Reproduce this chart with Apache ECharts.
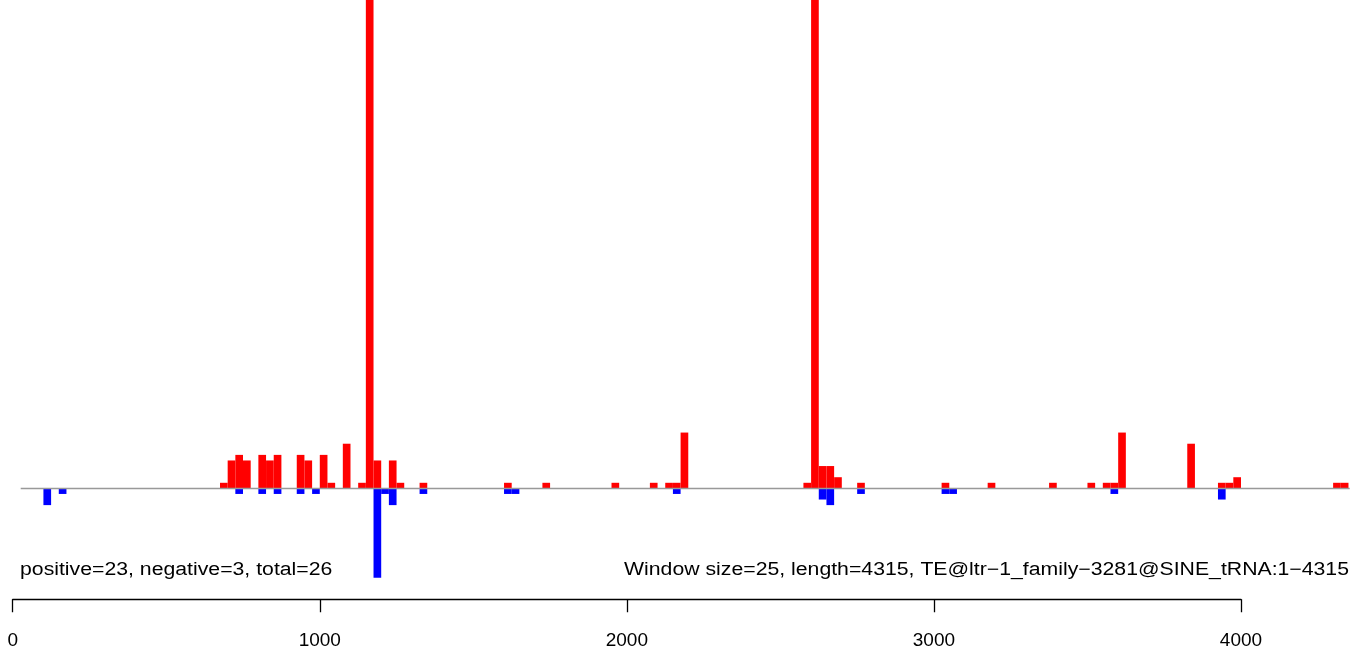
<!DOCTYPE html>
<html><head><meta charset="utf-8">
<script src="https://cdn.jsdelivr.net/npm/echarts@6/dist/echarts.min.js"></script>
<style>html,body{margin:0;padding:0;background:#fff;overflow:hidden}#c{width:1366px;height:648px}</style>
</head><body><div id="c"></div>
<script>
// ---- data (window starts in bp, counts) ----
const WINDOW = 25;
const posStart = [675,700,725,750,800,825,850,925,950,1000,1025,1075,1125,1150,1175,1225,1250,1325,
  1600,1725,1950,2075,2125,2150,2175,2575,2600,2625,2650,2675,2750,
  3025,3175,3375,3500,3550,3575,3600,3825,3925,3950,3975,4300,4325];
// the two tallest windows run off the top of the plot; their values are estimated
const posValue = [1,5,6,5,6,5,6,6,5,6,1,8,1,150,5,5,1,1,
  1,1,1,1,1,1,10,1,150,4,4,2,1,
  1,1,1,1,1,1,10,8,1,1,2,1,1];
const negStart = [100,150,725,800,850,925,975,1175,1200,1225,1325,1600,1625,2150,2625,2650,2750,3025,3050,3575,3925];
const negValue = [-3,-1,-1,-1,-1,-1,-1,-16,-1,-3,-1,-1,-1,-1,-2,-3,-1,-1,-1,-1,-2];
const axisTicks = [0,1000,2000,3000,4000];
const leftNote = 'positive=23, negative=3, total=26';
const rightNote = 'Window size=25, length=4315, TE@ltr\u22121_family\u22123281@SINE_tRNA:1\u22124315';

const FONT = '"Liberation Sans", Arial, Helvetica, sans-serif';
const chart = echarts.init(document.getElementById('c'), null, {renderer: 'canvas'});

function renderBar(params, api) {
  const s = api.value(0), h = api.value(1);
  const p0 = api.coord([s, 0]);
  const p1 = api.coord([s + WINDOW, h]);
  const cs = params.coordSys;
  const r = echarts.graphic.clipRectByRect(
    {x: p0[0], y: Math.min(p0[1], p1[1]), width: p1[0] - p0[0], height: Math.abs(p1[1] - p0[1])},
    {x: cs.x, y: cs.y, width: cs.width, height: cs.height});
  return r && {type: 'rect', shape: r, style: {fill: api.visual('color')}};
}

chart.setOption({
  animation: false,
  backgroundColor: '#ffffff',
  grid: [
    {left: 20.7, width: 1329, top: 0, height: 600},
    {left: 12.7, width: 1228.3, top: 599, height: 1}
  ],
  xAxis: [
    {gridIndex: 0, type: 'value', min: 26, max: 4354, show: false},
    {gridIndex: 1, type: 'value', min: 0, max: 4000, interval: 1000, position: 'bottom',
      axisLine: {show: true, lineStyle: {color: '#000', width: 1.3}},
      axisTick: {show: true, length: 13, lineStyle: {color: '#000', width: 1.3}},
      splitLine: {show: false},
      axisLabel: {show: true, color: '#000', fontFamily: FONT, fontSize: 19, margin: 32,
        formatter: v => axisTicks.indexOf(v) >= 0 ? String(v) : ''}}
  ],
  yAxis: [
    {gridIndex: 0, type: 'value', min: -20, max: 87.5, show: false},
    {gridIndex: 1, type: 'value', show: false}
  ],
  series: [
    {type: 'custom', xAxisIndex: 0, yAxisIndex: 0, renderItem: renderBar,
      itemStyle: {color: '#ff0000'}, encode: {x: 0, y: 1},
      data: posStart.map((s, i) => [s, posValue[i]])},
    {type: 'custom', xAxisIndex: 0, yAxisIndex: 0, renderItem: renderBar,
      itemStyle: {color: '#0000ff'}, encode: {x: 0, y: 1},
      data: negStart.map((s, i) => [s, negValue[i]]),
      markLine: {silent: true, symbol: 'none', label: {show: false},
        lineStyle: {color: '#999999', width: 1.3, type: 'solid'},
        data: [{yAxis: 0}]}}
  ],
  graphic: [
    {type: 'text', x: 20, y: 561, scaleX: 1.18,
      style: {text: leftNote, font: '18px ' + FONT, fill: '#000'}},
    {type: 'text', x: 1349, y: 561, scaleX: 1.18,
      style: {text: rightNote, font: '18px ' + FONT, fill: '#000', align: 'right'}}
  ]
});
</script>
</body></html>
